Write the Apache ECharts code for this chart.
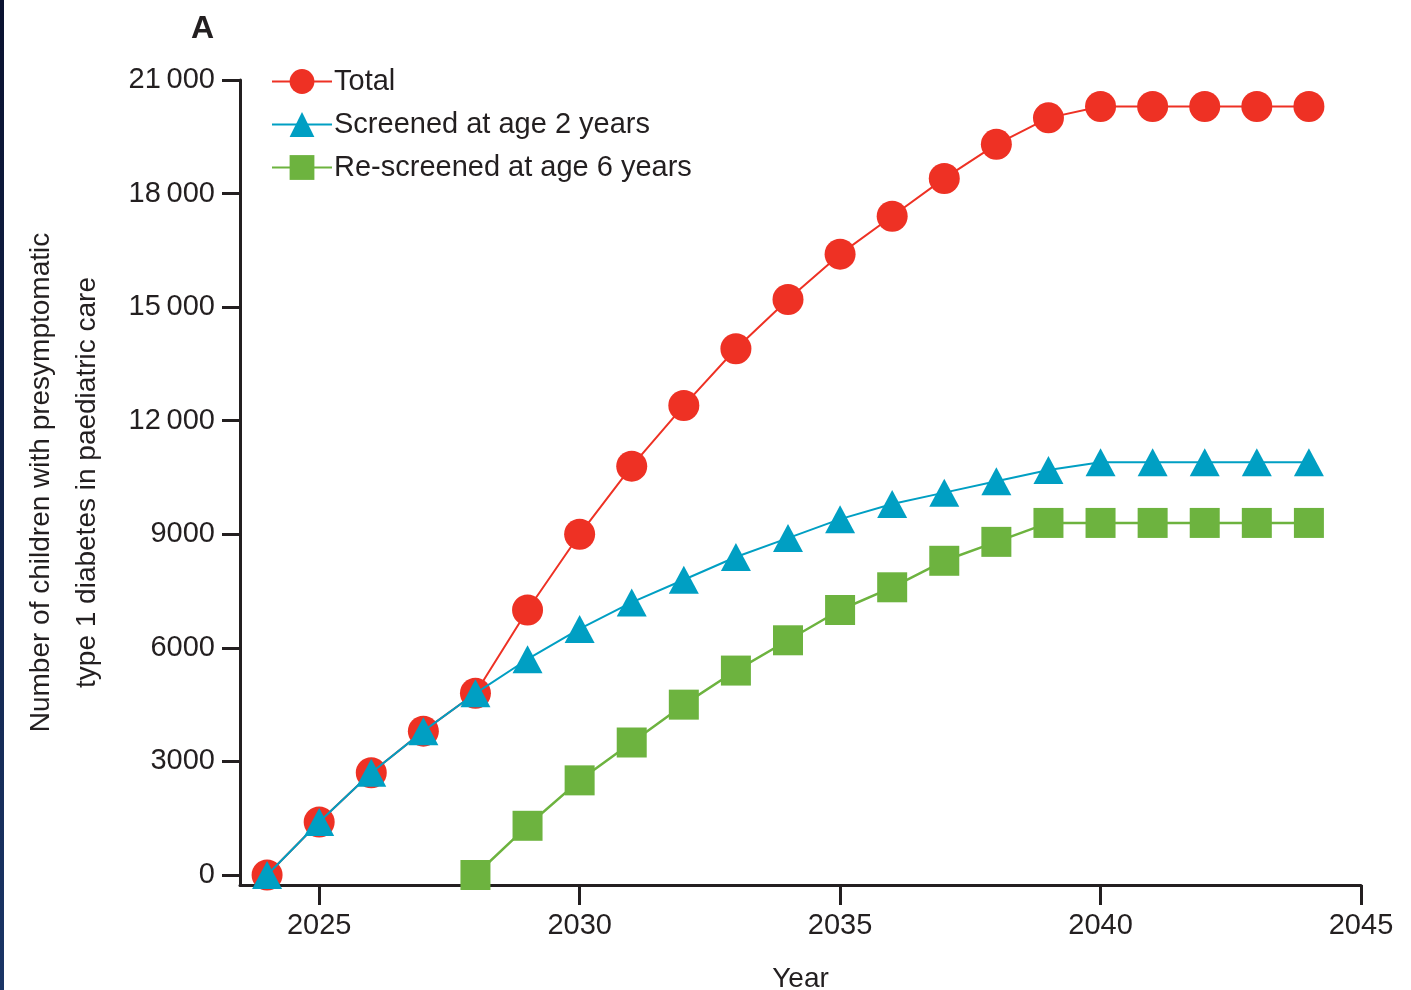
<!DOCTYPE html>
<html>
<head>
<meta charset="utf-8">
<script src="https://cdn.jsdelivr.net/npm/echarts@6/dist/echarts.min.js"></script>
<style>
html, body { margin: 0; padding: 0; background: #fff; }
#edge { position: absolute; left: 0; top: 0; width: 4px; height: 990px; background: linear-gradient(#0a1230, #1a3566); }
#chart { width: 1411px; height: 990px; }
</style>
</head>
<body>
<div id="edge"></div>
<div id="chart"></div>
<script>
// values
const years = [2024, 2025, 2026, 2027, 2028, 2029, 2030, 2031, 2032, 2033, 2034,
               2035, 2036, 2037, 2038, 2039, 2040, 2041, 2042, 2043, 2044];
const total = [0, 1400, 2700, 3800, 4800, 7000, 9000, 10800, 12400, 13900, 15200,
               16400, 17400, 18400, 19300, 20000, 20300, 20300, 20300, 20300, 20300];
const screened2 = [0, 1400, 2700, 3800, 4800, 5700, 6500, 7200, 7800, 8400, 8900,
                   9400, 9800, 10100, 10400, 10700, 10900, 10900, 10900, 10900, 10900];
const rescreenYears = [2028, 2029, 2030, 2031, 2032, 2033, 2034, 2035, 2036, 2037, 2038,
                       2039, 2040, 2041, 2042, 2043, 2044];
const rescreened6 = [0, 1300, 2500, 3500, 4500, 5400, 6200, 7000, 7600, 8300, 8800,
                     9300, 9300, 9300, 9300, 9300, 9300];
const xTicks = [2025, 2030, 2035, 2040, 2045];
const yTicks = [0, 3000, 6000, 9000, 12000, 15000, 18000, 21000];

const FONT = 'Liberation Sans';
const ink = '#231F20';

function pairs(xs, ys) {
    return xs.map((x, i) => [x, ys[i]]);
}

const chart = echarts.init(document.getElementById('chart'));
chart.setOption({
    animation: false,
    textStyle: { fontFamily: FONT },
    title: {
        text: 'A',
        left: 186,
        top: 8,
        textStyle: { fontSize: 32, fontWeight: 'bold', color: ink, fontFamily: FONT }
    },
    legend: {
        left: 266,
        top: 62,
        orient: 'vertical',
        itemGap: 14,
        itemWidth: 60,
        itemHeight: 31,
        textStyle: { fontSize: 29, color: ink, fontFamily: FONT, padding: [0, 0, 0, -3] },
        data: ['Total', 'Screened at age 2 years', 'Re-screened at age 6 years']
    },
    grid: { left: 240, right: 50, top: 80, bottom: 105, containLabel: false, outerBoundsMode: 'none' },
    xAxis: {
        type: 'value',
        min: 2023.48,
        max: 2045,
        name: 'Year',
        nameLocation: 'middle',
        nameGap: 80,
        nameTextStyle: { fontSize: 28, color: ink },
        axisLine: { show: true, onZero: false, lineStyle: { color: ink, width: 3 } },
        axisTick: { show: true, customValues: xTicks, length: 20, lineStyle: { color: ink, width: 3 } },
        axisLabel: { customValues: xTicks, fontSize: 29, color: ink, margin: 26, formatter: v => String(v) },
        splitLine: { show: false }
    },
    yAxis: {
        type: 'value',
        min: -264,
        max: 21000,
        name: 'Number of children with presymptomatic\ntype 1 diabetes in paediatric care',
        nameLocation: 'middle',
        nameGap: 130,
        nameTextStyle: { fontSize: 28, color: ink, lineHeight: 46 },
        axisLine: { show: true, onZero: false, lineStyle: { color: ink, width: 3 } },
        axisTick: { show: true, customValues: yTicks, length: 18, lineStyle: { color: ink, width: 3 } },
        axisLabel: {
            customValues: yTicks,
            fontSize: 29,
            color: ink,
            margin: 25,
            formatter: v => v >= 10000 ? String(v).replace(/(\d{3})$/, '\u2009$1') : String(v)
        },
        splitLine: { show: false }
    },
    series: [
        {
            name: 'Re-screened at age 6 years',
            type: 'line',
            data: pairs(rescreenYears, rescreened6),
            symbol: 'rect',
            symbolSize: 30,
            z: 2,
            itemStyle: { color: '#6DB33F' },
            lineStyle: { color: '#6DB33F', width: 2.5 }
        },
        {
            name: 'Total',
            type: 'line',
            data: pairs(years, total),
            symbol: 'circle',
            symbolSize: 31,
            z: 3,
            itemStyle: { color: '#EE3124' },
            lineStyle: { color: '#EE3124', width: 2 }
        },
        {
            name: 'Screened at age 2 years',
            type: 'line',
            data: pairs(years, screened2),
            symbol: 'triangle',
            symbolSize: [30, 28],
            z: 4,
            itemStyle: { color: '#009FC3' },
            lineStyle: { color: '#009FC3', width: 2 }
        }
    ]
});
</script>
</body>
</html>
